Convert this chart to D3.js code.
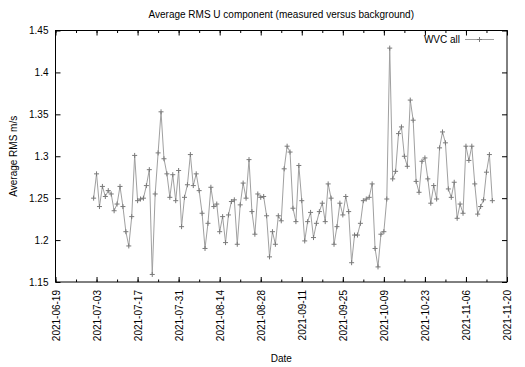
<!DOCTYPE html>
<html>
<head>
<meta charset="utf-8">
<script src="https://cdn.jsdelivr.net/npm/d3@7"></script>
<style>
body { margin: 0; background: #fff; }
text { font-family: "Liberation Sans", Arial, sans-serif; font-size: 10px; fill: #000; }
</style>
</head>
<body>
<div id="vis" style="width:525px;height:367px;"></div>
<script>
// daily values starting at startDate
var startDate = '2021-07-02';
var rmsValues = [
  1.250, 1.279, 1.240, 1.264, 1.252, 1.259, 1.255, 1.235, 1.243, 1.264,
  1.240, 1.210, 1.193, 1.228, 1.301, 1.247, 1.249, 1.250, 1.265, 1.284,
  1.159, 1.255, 1.304, 1.353, 1.297, 1.279, 1.251, 1.278, 1.247, 1.283,
  1.216, 1.251, 1.266, 1.302, 1.265, 1.279, 1.259, 1.232, 1.190, 1.220,
  1.263, 1.240, 1.243, 1.210, 1.228, 1.197, 1.230, 1.246, 1.248, 1.195,
  1.242, 1.268, 1.250, 1.296, 1.234, 1.207, 1.255, 1.251, 1.252, 1.229,
  1.180, 1.210, 1.195, 1.229, 1.223, 1.285, 1.312, 1.305, 1.238, 1.222,
  1.289, 1.247, 1.199, 1.222, 1.233, 1.203, 1.220, 1.234, 1.244, 1.222,
  1.267, 1.250, 1.195, 1.216, 1.244, 1.230, 1.252, 1.234, 1.173, 1.206,
  1.206, 1.220, 1.247, 1.249, 1.251, 1.267, 1.190, 1.168, 1.207, 1.210,
  1.249, 1.429, 1.273, 1.282, 1.327, 1.335, 1.300, 1.288, 1.367, 1.343,
  1.270, 1.257, 1.294, 1.298, 1.273, 1.244, 1.265, 1.249, 1.310, 1.329,
  1.316, 1.261, 1.251, 1.269, 1.226, 1.243, 1.232, 1.312, 1.295, 1.312,
  1.267, 1.231, 1.240, 1.248, 1.281, 1.302, 1.247
];
var xTickLabels = ['2021-06-19', '2021-07-03', '2021-07-17', '2021-07-31', '2021-08-14', '2021-08-28',
  '2021-09-11', '2021-09-25', '2021-10-09', '2021-10-23', '2021-11-06', '2021-11-20'];
var yTicks = [1.15, 1.2, 1.25, 1.3, 1.35, 1.4, 1.45];
var seriesName = 'WVC all';

var width = 525, height = 367;
var margin = { top: 30.5, bottom: 85, left: 55.5, right: 18 };

var svg = d3.select('#vis')
    .append('svg')
    .attr('width', width)
    .attr('height', height);

var g = svg.append('g')
    .attr('transform', 'translate(' + margin.left + ',' + margin.top + ')');

width = width - margin.left - margin.right;
height = height - margin.top - margin.bottom;

var parse = d3.utcParse('%Y-%m-%d');
var day0 = parse(startDate);
var data = rmsValues.map(function(v, i) {
    return { date: d3.utcDay.offset(day0, i), value: v };
});

var majorTicks = xTickLabels.map(parse);
var lastTick = majorTicks[majorTicks.length - 1];
// minor ticks every 7 days
var minorTicks = d3.utcDays(majorTicks[0], d3.utcDay.offset(lastTick, 1), 7);

var x_scale = d3.scaleUtc()
    .domain([majorTicks[0], lastTick])
    .range([0, width]);

var y_scale = d3.scaleLinear()
    .domain([yTicks[0], yTicks[yTicks.length - 1]])
    .range([height, 0]);

var fmtDate = d3.utcFormat('%Y-%m-%d');
var fmtY = function(d) { return String(+d.toFixed(2)); };

function noDomain(s) { s.select('.domain').remove(); }

// minor x ticks (bottom + top)
g.append('g')
    .attr('transform', 'translate(0,' + height + ')')
    .call(d3.axisBottom(x_scale).tickValues(minorTicks).tickSizeInner(-2.5).tickSizeOuter(0).tickFormat(''))
    .call(noDomain);
g.append('g')
    .call(d3.axisTop(x_scale).tickValues(minorTicks).tickSizeInner(-2.5).tickSizeOuter(0).tickFormat(''))
    .call(noDomain);

// major x ticks
var xAxis = g.append('g')
    .attr('class', 'x axis')
    .attr('transform', 'translate(0,' + height + ')')
    .call(d3.axisBottom(x_scale).tickValues(majorTicks).tickSizeInner(-5).tickSizeOuter(0).tickFormat(fmtDate))
    .call(noDomain);
xAxis.selectAll('text')
    .attr('transform', 'rotate(-90)')
    .attr('x', -8)
    .attr('y', 0)
    .attr('dy', '0.35em')
    .style('text-anchor', 'end');

g.append('g')
    .call(d3.axisTop(x_scale).tickValues(majorTicks).tickSizeInner(-5).tickSizeOuter(0).tickFormat(''))
    .call(noDomain);

// y ticks (left + mirrored right)
g.append('g')
    .attr('class', 'y axis')
    .call(d3.axisLeft(y_scale).tickValues(yTicks).tickSizeInner(-5).tickSizeOuter(0).tickPadding(7).tickFormat(fmtY))
    .call(noDomain);

g.append('g')
    .attr('transform', 'translate(' + width + ',0)')
    .call(d3.axisRight(y_scale).tickValues(yTicks).tickSizeInner(-5).tickSizeOuter(0).tickFormat(''))
    .call(noDomain);

g.selectAll('.tick line').attr('stroke', '#000');
g.selectAll('.tick text').style('font-size', '10px').style('font-family', '"Liberation Sans", Arial, sans-serif');

// frame
g.append('rect')
    .attr('width', width)
    .attr('height', height)
    .attr('fill', 'none')
    .attr('stroke', '#000')
    .attr('stroke-width', 1);

// series
var line = d3.line()
    .x(function(d) { return x_scale(d.date); })
    .y(function(d) { return y_scale(d.value); });

g.append('path')
    .datum(data)
    .attr('d', line)
    .attr('fill', 'none')
    .attr('stroke', '#a0a0a0')
    .attr('stroke-width', 1);

var plus = 'M-2.5,0H2.5M0,-2.5V2.5';
g.selectAll('.pt')
    .data(data)
    .enter()
    .append('path')
    .attr('class', 'pt')
    .attr('d', plus)
    .attr('transform', function(d) { return 'translate(' + x_scale(d.date) + ',' + y_scale(d.value) + ')'; })
    .attr('stroke', '#7a7a7a')
    .attr('stroke-width', 1)
    .attr('fill', 'none');

// legend
var lg = g.append('g').attr('transform', 'translate(' + (width - 42) + ',9)');
lg.append('text')
    .attr('x', -5)
    .attr('dy', '0.35em')
    .style('text-anchor', 'end')
    .text(seriesName);
lg.append('line')
    .attr('x1', 0).attr('x2', 29)
    .attr('stroke', '#a0a0a0');
lg.append('path')
    .attr('d', plus)
    .attr('transform', 'translate(14.5,0)')
    .attr('stroke', '#7a7a7a')
    .attr('fill', 'none');

// title and labels
svg.append('text')
    .attr('x', margin.left + width / 2)
    .attr('y', 18)
    .style('text-anchor', 'middle')
    .text('Average RMS U component (measured versus background)');

svg.append('text')
    .attr('x', margin.left + width / 2)
    .attr('y', 362)
    .style('text-anchor', 'middle')
    .text('Date');

svg.append('text')
    .attr('transform', 'translate(17,' + (margin.top + height / 2) + ') rotate(-90)')
    .style('text-anchor', 'middle')
    .text('Average RMS m/s');
</script>
</body>
</html>
